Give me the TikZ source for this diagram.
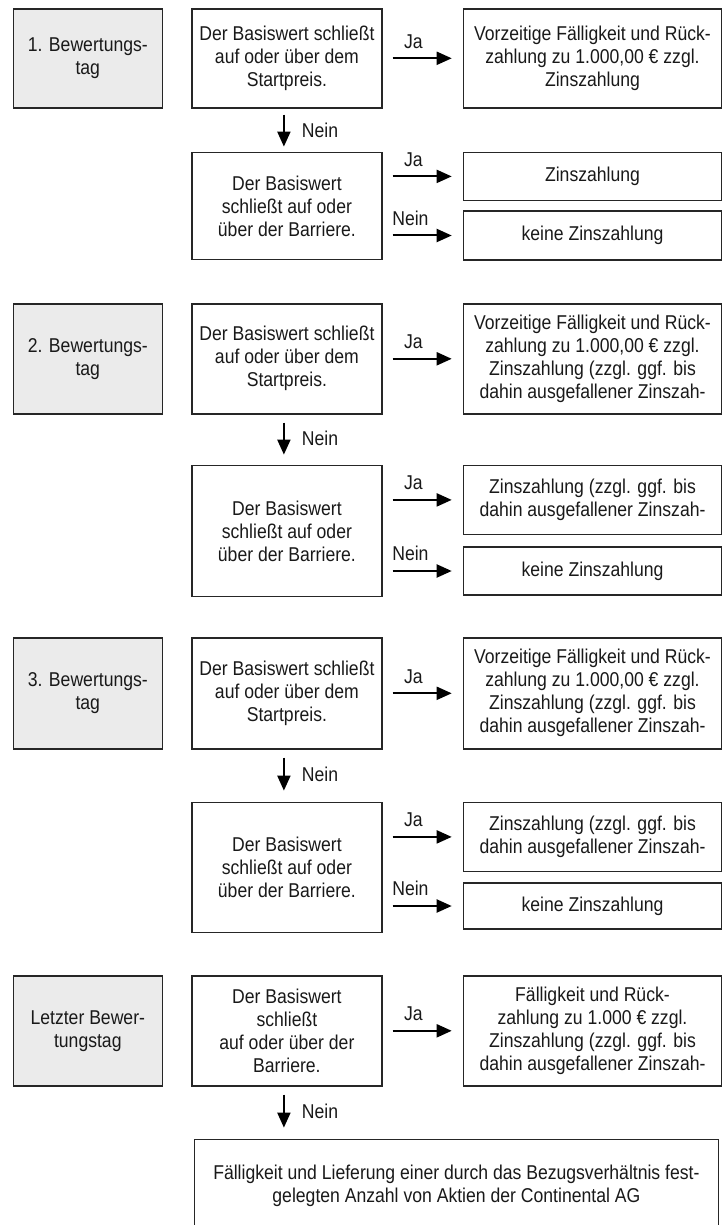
\documentclass[tikz,border=0pt]{standalone}
\usepackage{fontspec}
\setmainfont{Liberation Sans}[FakeStretch=0.88]
\usetikzlibrary{arrows.meta,positioning}
\definecolor{tagfill}{RGB}{235,235,235}

\begin{document}
\begin{tikzpicture}[
  node distance=21.5pt and 14pt,
  >={Triangle[length=7.5pt,width=6.5pt]},
  every node/.style={font=\fontsize{10}{11.5}\selectfont, text=black!90},
  box/.style={draw=black!85, line width=0.8pt, align=center, inner sep=2pt},
  tag/.style={box, fill=tagfill, minimum width=74.5pt, anchor=north west},
  dec/.style={box, minimum width=95pt},
  res/.style={box, minimum width=129pt},
  lbl/.style={inner sep=0pt},
  arr/.style={->, line width=1pt, black}]

\useasboundingbox (0,0) rectangle (361.5pt,-612.5pt);

% 1. Bewertungstag
\node[tag, minimum height=49.5pt] (tag1) at (6.25pt,-4pt) {1. Bewertungs-\\tag};
\node[dec, minimum height=49.5pt, right=of tag1] (st1) {Der Basiswert schließt\\auf oder über dem\\Startpreis.};
\node[res, minimum height=49.5pt, right=40pt of st1] (rp1) {Vorzeitige Fälligkeit und Rück-\\zahlung zu 1.000,00 € zzgl.\\Zinszahlung};
\node[dec, minimum height=53.5pt, below=of st1] (ba1) {Der Basiswert\\schließt auf oder\\über der Barriere.};
\node[res, minimum height=24pt, below=of rp1] (zi1) {Zinszahlung};
\node[res, minimum height=24.5pt, below=4.5pt of zi1] (kz1) {keine Zinszahlung};

\draw[arr] ([xshift=5pt]st1.east |- rp1.west) -- ([xshift=-5.5pt]rp1.west) node[lbl, pos=0.35, above=4.5pt] {Ja};
\draw[arr] ([xshift=-1.5pt,yshift=-3pt]st1.south) -- ([xshift=-1.5pt,yshift=2.5pt]ba1.north) node[lbl, midway, right=8.5pt] {Nein};
\draw[arr] ([xshift=5pt]ba1.east |- zi1.west) -- ([xshift=-5.5pt]zi1.west) node[lbl, pos=0.35, above=4.5pt] {Ja};
\draw[arr] ([xshift=5pt]ba1.east |- kz1.west) -- ([xshift=-5.5pt]kz1.west) node[lbl, pos=0.3, above=4.5pt] {Nein};

% 2. Bewertungstag
\node[tag, minimum height=55pt] (tag2) at (6.25pt,-151.5pt) {2. Bewertungs-\\tag};
\node[dec, minimum height=55pt, right=of tag2] (st2) {Der Basiswert schließt\\auf oder über dem\\Startpreis.};
\node[res, minimum height=55pt, right=40pt of st2] (rp2) {Vorzeitige Fälligkeit und Rück-\\zahlung zu 1.000,00 € zzgl.\\Zinszahlung (zzgl. ggf. bis\\dahin ausgefallener Zinszah-};
\node[dec, minimum height=65.5pt, below=25pt of st2] (ba2) {Der Basiswert\\schließt auf oder\\über der Barriere.};
\node[res, minimum height=34.5pt, below=25pt of rp2] (zi2) {Zinszahlung (zzgl. ggf. bis\\dahin ausgefallener Zinszah-};
\node[res, minimum height=24pt, below=5.5pt of zi2] (kz2) {keine Zinszahlung};

\draw[arr] ([xshift=5pt]st2.east |- rp2.west) -- ([xshift=-5.5pt]rp2.west) node[lbl, pos=0.35, above=4.5pt] {Ja};
\draw[arr] ([xshift=-1.5pt,yshift=-4pt]st2.south) -- ([xshift=-1.5pt,yshift=5pt]ba2.north) node[lbl, midway, right=8.5pt] {Nein};
\draw[arr] ([xshift=5pt]ba2.east |- zi2.west) -- ([xshift=-5.5pt]zi2.west) node[lbl, pos=0.35, above=4.5pt] {Ja};
\draw[arr] ([xshift=5pt]ba2.east |- kz2.west) -- ([xshift=-5.5pt]kz2.west) node[lbl, pos=0.3, above=4.5pt] {Nein};

% 3. Bewertungstag
\node[tag, minimum height=55.5pt] (tag3) at (6.25pt,-318.5pt) {3. Bewertungs-\\tag};
\node[dec, minimum height=55.5pt, right=of tag3] (st3) {Der Basiswert schließt\\auf oder über dem\\Startpreis.};
\node[res, minimum height=55.5pt, right=40pt of st3] (rp3) {Vorzeitige Fälligkeit und Rück-\\zahlung zu 1.000,00 € zzgl.\\Zinszahlung (zzgl. ggf. bis\\dahin ausgefallener Zinszah-};
\node[dec, minimum height=65pt, below=26pt of st3] (ba3) {Der Basiswert\\schließt auf oder\\über der Barriere.};
\node[res, minimum height=34.5pt, below=26pt of rp3] (zi3) {Zinszahlung (zzgl. ggf. bis\\dahin ausgefallener Zinszah-};
\node[res, minimum height=23pt, below=5pt of zi3] (kz3) {keine Zinszahlung};

\draw[arr] ([xshift=5pt]st3.east |- rp3.west) -- ([xshift=-5.5pt]rp3.west) node[lbl, pos=0.35, above=4.5pt] {Ja};
\draw[arr] ([xshift=-1.5pt,yshift=-4pt]st3.south) -- ([xshift=-1.5pt,yshift=5.5pt]ba3.north) node[lbl, midway, right=8.5pt] {Nein};
\draw[arr] ([xshift=5pt]ba3.east |- zi3.west) -- ([xshift=-5.5pt]zi3.west) node[lbl, pos=0.35, above=4.5pt] {Ja};
\draw[arr] ([xshift=5pt]ba3.east |- kz3.west) -- ([xshift=-5.5pt]kz3.west) node[lbl, pos=0.3, above=4.5pt] {Nein};

% Letzter Bewertungstag
\node[tag, minimum height=55pt] (tag4) at (6.25pt,-487.5pt) {Letzter Bewer-\\tungstag};
\node[dec, minimum height=55pt, right=of tag4] (st4) {Der Basiswert\\schließt\\auf oder über der\\Barriere.};
\node[res, minimum height=55pt, right=40pt of st4] (rp4) {Fälligkeit und Rück-\\zahlung zu 1.000 € zzgl.\\Zinszahlung (zzgl. ggf. bis\\dahin ausgefallener Zinszah-};
\node[box, minimum width=262pt, minimum height=46.5pt, below=26pt of st4.south west, anchor=north west, xshift=1.25pt] (lief) {Fälligkeit und Lieferung einer durch das Bezugsverhältnis fest-\\gelegten Anzahl von Aktien der Continental AG};

\draw[arr] ([xshift=5pt]st4.east |- rp4.west) -- ([xshift=-5.5pt]rp4.west) node[lbl, pos=0.35, above=4.5pt] {Ja};
\draw[arr] ([xshift=-1.5pt,yshift=-4pt]st4.south) -- ([xshift=-1.5pt,yshift=5.5pt]st4.south |- lief.north) node[lbl, midway, right=8.5pt] {Nein};

\end{tikzpicture}
\end{document}
